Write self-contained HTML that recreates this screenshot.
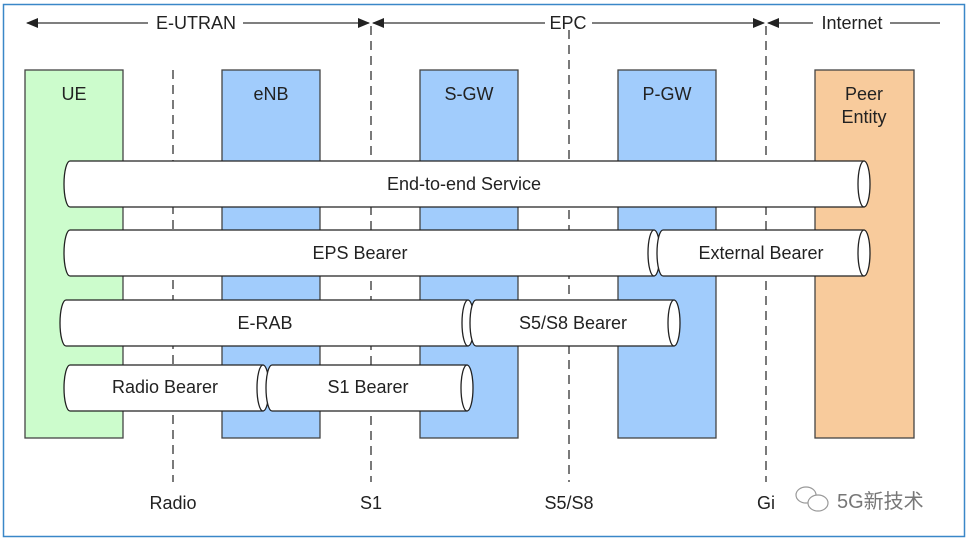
<!DOCTYPE html>
<html><head><meta charset="utf-8"><style>
body{margin:0;background:#fff;}
svg text{font-family:"Liberation Sans","Noto Sans CJK SC",sans-serif;fill:#222;}
</style></head><body>
<svg width="969" height="541" xmlns="http://www.w3.org/2000/svg">
<defs>
<marker id="a" markerWidth="12" markerHeight="10" refX="11" refY="5" orient="auto-start-reverse" markerUnits="userSpaceOnUse"><path d="M0,0 L12,5 L0,10 z" fill="#222"/></marker>
</defs>
<rect x="3.5" y="4.5" width="961" height="532" fill="#fff" stroke="#3a87c8" stroke-width="1.5"/>
<g stroke="#333" stroke-width="1.3" fill="none">
<line x1="27" y1="23" x2="148" y2="23" marker-start="url(#a)"/>
<line x1="243" y1="23" x2="369" y2="23" marker-end="url(#a)"/>
<line x1="373" y1="23" x2="545" y2="23" marker-start="url(#a)"/>
<line x1="592" y1="23" x2="764" y2="23" marker-end="url(#a)"/>
<line x1="768" y1="23" x2="813" y2="23" marker-start="url(#a)"/>
<line x1="890" y1="23" x2="940" y2="23"/>
</g>
<g font-size="18" text-anchor="middle">
<text x="196" y="29">E-UTRAN</text>
<text x="568" y="29">EPC</text>
<text x="852" y="29">Internet</text>
</g>
<g stroke="#444" stroke-width="1.3">
<rect x="25" y="70" width="98" height="368" fill="#ccfccc"/>
<rect x="222" y="70" width="98" height="368" fill="#a1ccfc"/>
<rect x="420" y="70" width="98" height="368" fill="#a1ccfc"/>
<rect x="618" y="70" width="98" height="368" fill="#a1ccfc"/>
<rect x="815" y="70" width="99" height="368" fill="#f8cb9c"/>
</g>
<g font-size="18" text-anchor="middle">
<text x="74" y="100">UE</text>
<text x="271" y="100">eNB</text>
<text x="469" y="100">S-GW</text>
<text x="667" y="100">P-GW</text>
<text x="864" y="100">Peer</text>
<text x="864" y="123">Entity</text>
</g>
<g stroke="#333" stroke-width="1.3" stroke-dasharray="9,6">
<line x1="173" y1="70" x2="173" y2="482"/>
<line x1="371" y1="26" x2="371" y2="482"/>
<line x1="569" y1="30" x2="569" y2="482"/>
<line x1="766" y1="26" x2="766" y2="482"/>
</g>
<g stroke="#222" stroke-width="1.3" fill="#fff">
<path d="M70,161 L864,161 L864,207 L70,207 A6,23 0 0 1 70,161 Z"/><ellipse cx="864" cy="184" rx="6" ry="23"/>
<path d="M70,230 L654,230 L654,276 L70,276 A6,23 0 0 1 70,230 Z"/><ellipse cx="654" cy="253" rx="6" ry="23"/>
<path d="M663,230 L864,230 L864,276 L663,276 A6,23 0 0 1 663,230 Z"/><ellipse cx="864" cy="253" rx="6" ry="23"/>
<path d="M66,300 L468,300 L468,346 L66,346 A6,23 0 0 1 66,300 Z"/><ellipse cx="468" cy="323" rx="6" ry="23"/>
<path d="M476,300 L674,300 L674,346 L476,346 A6,23 0 0 1 476,300 Z"/><ellipse cx="674" cy="323" rx="6" ry="23"/>
<path d="M70,365 L263,365 L263,411 L70,411 A6,23 0 0 1 70,365 Z"/><ellipse cx="263" cy="388" rx="6" ry="23"/>
<path d="M272,365 L467,365 L467,411 L272,411 A6,23 0 0 1 272,365 Z"/><ellipse cx="467" cy="388" rx="6" ry="23"/>
</g>
<g font-size="18" text-anchor="middle">
<text x="464" y="190">End-to-end Service</text>
<text x="360" y="259">EPS Bearer</text>
<text x="761" y="259">External Bearer</text>
<text x="265" y="329">E-RAB</text>
<text x="573" y="329">S5/S8 Bearer</text>
<text x="165" y="393">Radio Bearer</text>
<text x="368" y="393">S1 Bearer</text>
<text x="173" y="509">Radio</text>
<text x="371" y="509">S1</text>
<text x="569" y="509">S5/S8</text>
<text x="766" y="509">Gi</text>
</g>
<g stroke="#999" fill="none" stroke-width="1.2">
<ellipse cx="806" cy="495" rx="10" ry="8"/>
<ellipse cx="818" cy="503" rx="10" ry="8" fill="#fff"/>
</g>
<text x="837" y="508" font-size="20" style="fill:#777">5G新技术</text>
</svg>
</body></html>
